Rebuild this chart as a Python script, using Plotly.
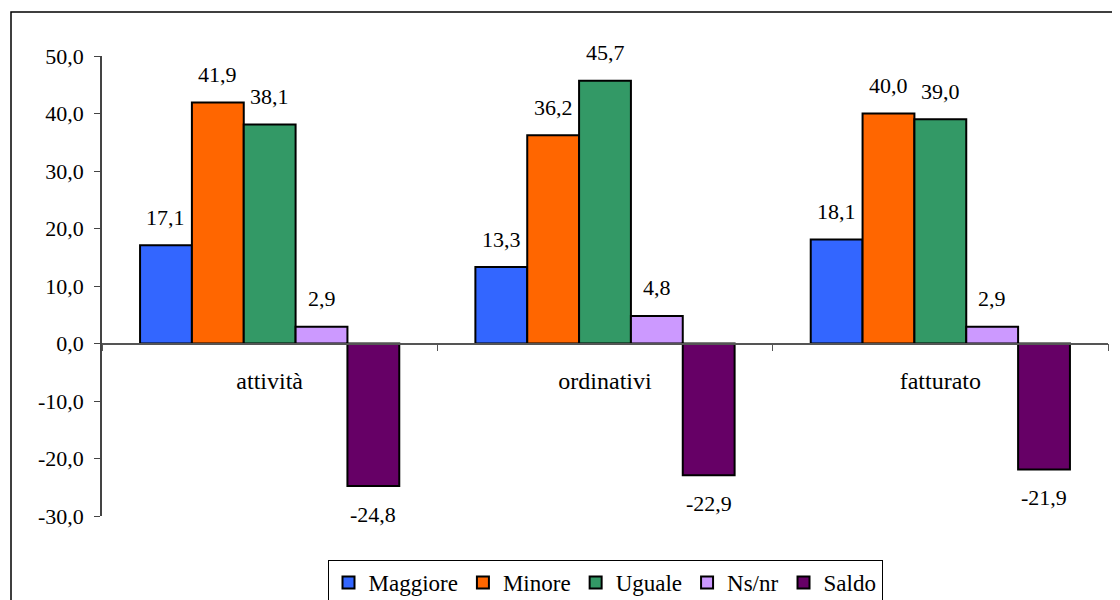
import plotly.graph_objects as go

categories = ["attività", "ordinativi", "fatturato"]
series_names = ["Maggiore", "Minore", "Uguale", "Ns/nr", "Saldo"]
maggiore = [17.1, 13.3, 18.1]
minore = [41.9, 36.2, 40.0]
uguale = [38.1, 45.7, 39.0]
nsnr = [2.9, 4.8, 2.9]
saldo = [-24.8, -22.9, -21.9]
series_values = [maggiore, minore, uguale, nsnr, saldo]
colors = ["#3366FF", "#FF6600", "#339966", "#CC99FF", "#660066"]
y_ticks = [-30, -20, -10, 0, 10, 20, 30, 40, 50]

W, H = 1120, 600
# the page body adds an 8px offset; margins compensate for it
ML, MR, MT, MB = 94, 20, 48, 92
YMIN, YMAX = -30, 50
BARGAP = 0.227
FONT = "'Liberation Serif', 'Times New Roman', Times, 'DejaVu Serif', serif"
FS = 22

def fmt(v):
    return f"{v:.1f}".replace(".", ",")

fig = go.Figure()
for name, vals, col in zip(series_names, series_values, colors):
    fig.add_trace(go.Bar(
        name=name, x=categories, y=vals,
        marker=dict(color=col, line=dict(color="black", width=2)),
        hoverinfo="skip",
    ))

plot_w = W - ML - MR
plot_h = H - MT - MB
bw = plot_w / len(categories) * (1 - BARGAP) / len(series_names)
annotations = []
for i, vals in enumerate(series_values):
    for c, v in zip(categories, vals):
        annotations.append(dict(
            x=c, y=v, text=fmt(v), showarrow=False,
            xshift=(i - (len(series_names) - 1) / 2) * bw,
            yshift=28 if v >= 0 else -28,
            yanchor="middle", xanchor="center",
            font=dict(family=FONT, size=FS, color="black"),
        ))

fig.update_layout(
    width=W, height=H,
    margin=dict(l=ML, r=MR, t=MT, b=MB, autoexpand=False),
    paper_bgcolor="white", plot_bgcolor="white",
    barmode="group", bargap=BARGAP, bargroupgap=0,
    font=dict(family=FONT, size=FS, color="black"),
    showlegend=True,
    legend=dict(
        orientation="h", x=0.5, xanchor="center",
        y=-44 / plot_h, yanchor="top",
        bordercolor="black", borderwidth=1, bgcolor="white",
        font=dict(family=FONT, size=23, color="black"),
        itemclick=False, itemdoubleclick=False,
        tracegroupgap=0, itemwidth=30,
    ),
    xaxis=dict(
        type="category", anchor="free",
        position=(0 - YMIN) / (YMAX - YMIN),
        showline=True, linecolor="#555555", linewidth=1.5,
        ticks="outside", tickson="boundaries", ticklen=7, tickcolor="#555555",
        ticklabelstandoff=16,
        showgrid=False, zeroline=False,
        tickfont=dict(family=FONT, size=24, color="black"),
    ),
    yaxis=dict(
        range=[YMIN, YMAX], tickvals=y_ticks,
        ticktext=[fmt(v) for v in y_ticks],
        showline=True, linecolor="#444444", linewidth=1.5,
        ticks="outside", ticklen=6, tickcolor="#444444",
        ticklabelstandoff=6,
        showgrid=False, zeroline=False,
        tickfont=dict(family=FONT, size=FS, color="black"),
    ),
    annotations=annotations,
    shapes=[dict(
        type="rect", xref="paper", yref="paper",
        x0=(3 - ML) / plot_w, x1=1.2,
        y0=-0.5, y1=(H - MB - 4) / plot_h,
        line=dict(color="black", width=1.5), fillcolor="rgba(0,0,0,0)",
        layer="below",
    )],
)

fig.write_html("out.html")
